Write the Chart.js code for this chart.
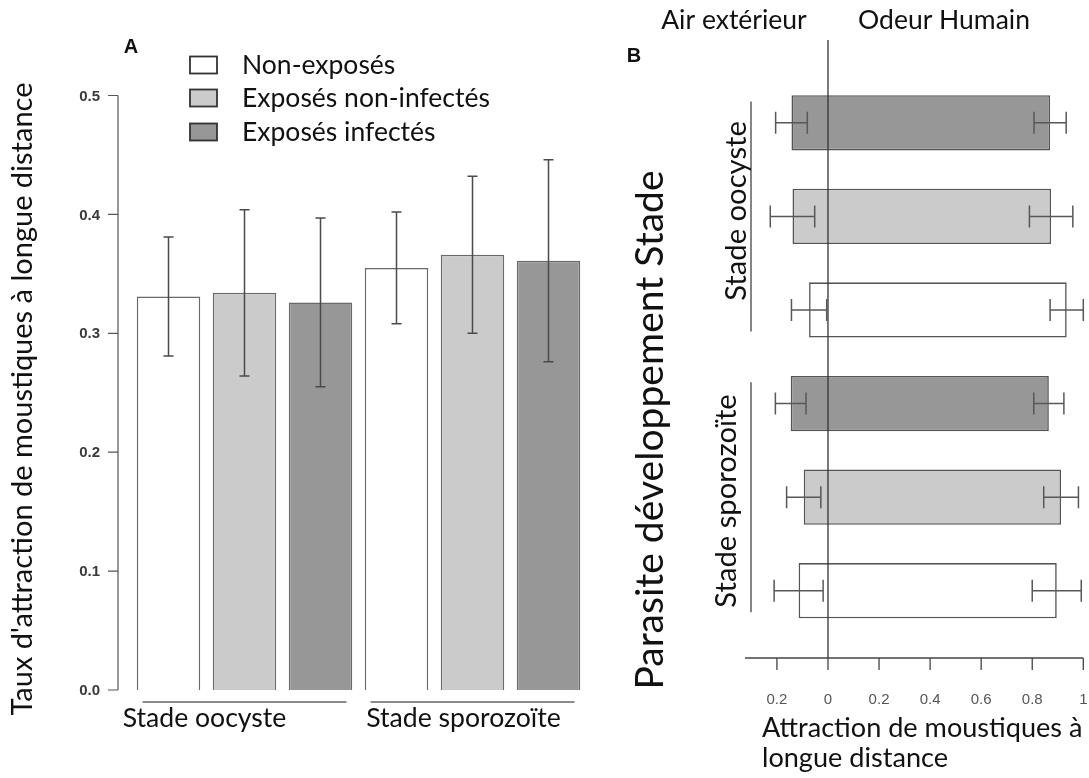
<!DOCTYPE html>
<html lang="fr">
<head>
<meta charset="UTF-8">
<title>Attraction des moustiques</title>
<script src="https://cdn.jsdelivr.net/npm/chart.js"></script>
<style>
    body { margin: 0; background: #fff; width: 1089px; height: 778px; overflow: hidden; position: relative; }
    #chartA { position: absolute; left: 0; top: 0; }
    #chartB { position: absolute; left: 600px; top: 0; }
</style>
</head>
<body>
<canvas id="chartA" width="600" height="778"></canvas>
<canvas id="chartB" width="489" height="778"></canvas>
<script>
// groups and series
const groups = ['Stade oocyste', 'Stade sporozoïte'];
const seriesNames = ['Non-exposés', 'Exposés non-infectés', 'Exposés infectés'];
const seriesColors = ['#ffffff', '#cbcbcb', '#979797'];

// panel A : taux d'attraction (moyenne, erreur)
const tauxNonExp = [0.331, 0.355];
const tauxNonInf = [0.334, 0.366];
const tauxInf = [0.326, 0.361];
const errTauxNonExp = [0.050, 0.047];
const errTauxNonInf = [0.070, 0.066];
const errTauxInf = [0.071, 0.085];
const yTicksA = [0, 0.1, 0.2, 0.3, 0.4, 0.5];

// panel B : air exterieur (gauche) / odeur humaine (droite)
const airInf = [0.143, 0.146];
const odeurInf = [0.870, 0.865];
const errAirInf = [0.062, 0.060];
const errOdeurInf = [0.063, 0.059];
const airNonInf = [0.139, 0.095];
const odeurNonInf = [0.874, 0.913];
const errAirNonInf = [0.087, 0.067];
const errOdeurNonInf = [0.085, 0.068];
const airNonExp = [0.074, 0.115];
const odeurNonExp = [0.935, 0.896];
const errAirNonExp = [0.069, 0.096];
const errOdeurNonExp = [0.065, 0.096];
const xTicksB = [-0.2, 0, 0.2, 0.4, 0.6, 0.8, 1];

const SANS = '"Lato", "Open Sans", sans-serif';
const TICK = '"Liberation Sans", Arial, sans-serif';

// pick a font size so the text spans the wanted width
function fitFont(ctx, text, width, family, weight) {
    ctx.font = (weight || 'normal') + ' 100px ' + family;
    const size = 100 * width / ctx.measureText(text).width;
    return (weight || 'normal') + ' ' + size.toFixed(1) + 'px ' + family;
}

function vText(ctx, text, x, y, font) {
    ctx.save();
    ctx.translate(x, y);
    ctx.rotate(-Math.PI / 2);
    ctx.font = font;
    ctx.textAlign = 'center';
    ctx.textBaseline = 'middle';
    ctx.fillText(text, 0, 0);
    ctx.restore();
}

// ---------- panel A ----------
const errA = [errTauxNonExp, errTauxNonInf, errTauxInf];

const panelA = {
    id: 'panelA',
    afterDatasetsDraw(chart) {
        const ctx = chart.ctx, y = chart.scales.y;
        ctx.save();
        ctx.strokeStyle = '#4a4a4a';
        ctx.lineWidth = 1.5;
        chart.data.datasets.forEach((ds, d) => {
            chart.getDatasetMeta(d).data.forEach((bar, i) => {
                const v = ds.data[i], e = errA[d][i];
                const top = y.getPixelForValue(v + e), bot = y.getPixelForValue(v - e);
                ctx.beginPath();
                ctx.moveTo(bar.x, top); ctx.lineTo(bar.x, bot);
                ctx.moveTo(bar.x - 5, top); ctx.lineTo(bar.x + 5, top);
                ctx.moveTo(bar.x - 5, bot); ctx.lineTo(bar.x + 5, bot);
                ctx.stroke();
            });
        });
        ctx.restore();
    },
    afterDraw(chart) {
        const ctx = chart.ctx, y = chart.scales.y, x = chart.scales.x;
        ctx.save();
        // y axis, away from the bars
        const ax = 118;
        ctx.strokeStyle = '#555';
        ctx.lineWidth = 1.2;
        ctx.beginPath();
        ctx.moveTo(ax, y.getPixelForValue(yTicksA[0]));
        ctx.lineTo(ax, y.getPixelForValue(yTicksA[yTicksA.length - 1]));
        yTicksA.forEach(t => {
            ctx.moveTo(ax - 10, y.getPixelForValue(t));
            ctx.lineTo(ax, y.getPixelForValue(t));
        });
        ctx.stroke();
        ctx.fillStyle = '#3a3a3a';
        ctx.font = 'bold 15px ' + TICK;
        ctx.textAlign = 'right';
        ctx.textBaseline = 'middle';
        yTicksA.forEach(t => ctx.fillText(t.toFixed(1), 100, y.getPixelForValue(t) + 1));

        ctx.fillStyle = '#111';
        vText(ctx, "Taux d'attraction de moustiques à longue distance", 23, 399,
            fitFont(ctx, "Taux d'attraction de moustiques à longue distance", 634, SANS));

        ctx.font = 'bold 20px ' + TICK;
        ctx.textAlign = 'center';
        ctx.fillText('A', 131, 47);

        // group underlines and names
        const half = (x.getPixelForValue(1) - x.getPixelForValue(0)) / 2;
        const nameShift = [-40, -9];
        ctx.strokeStyle = '#666';
        ctx.lineWidth = 1.5;
        const gFont = fitFont(ctx, groups[0], 164, SANS);
        groups.forEach((g, i) => {
            const cx = x.getPixelForValue(i);
            ctx.beginPath();
            ctx.moveTo(cx - half + 12, 702);
            ctx.lineTo(cx + half - 12, 702);
            ctx.stroke();
            ctx.font = gFont;
            ctx.fillStyle = '#111';
            ctx.textAlign = 'center';
            ctx.textBaseline = 'middle';
            ctx.fillText(g, cx + nameShift[i], 718);
        });

        // legend
        const lFont = fitFont(ctx, seriesNames[1], 248, SANS);
        const rows = [65, 98, 132];
        seriesNames.forEach((s, i) => {
            ctx.fillStyle = seriesColors[i];
            ctx.fillRect(190, rows[i] - 8.5, 27, 17);
            ctx.strokeStyle = '#333';
            ctx.lineWidth = 1.8;
            ctx.strokeRect(190, rows[i] - 8.5, 27, 17);
            ctx.fillStyle = '#111';
            ctx.font = lFont;
            ctx.textAlign = 'left';
            ctx.textBaseline = 'middle';
            ctx.fillText(s, 242, rows[i]);
        });
        ctx.restore();
    }
};

new Chart(document.getElementById('chartA'), {
    type: 'bar',
    data: {
        labels: groups,
        datasets: [
            { label: seriesNames[0], data: tauxNonExp, backgroundColor: seriesColors[0] },
            { label: seriesNames[1], data: tauxNonInf, backgroundColor: seriesColors[1] },
            { label: seriesNames[2], data: tauxInf, backgroundColor: seriesColors[2] }
        ]
    },
    options: {
        responsive: false,
        animation: false,
        devicePixelRatio: 1,
        datasets: { bar: { categoryPercentage: 1, barPercentage: 0.835, borderColor: '#6a6a6a', borderWidth: 1.5 } },
        layout: { padding: { left: 130.5, right: 13.5, top: 95.5, bottom: 88 } },
        scales: {
            x: { display: false },
            y: { display: false, min: 0, max: 0.5 }
        },
        plugins: { legend: { display: false }, tooltip: { enabled: false } }
    },
    plugins: [panelA]
});

// ---------- panel B ----------
// top to bottom inside a group: infectés, non-infectés, non-exposés
const orderB = [2, 1, 0];
const airB = [airInf, airNonInf, airNonExp];
const odeurB = [odeurInf, odeurNonInf, odeurNonExp];
const errAirB = [errAirInf, errAirNonInf, errAirNonExp];
const errOdeurB = [errOdeurInf, errOdeurNonInf, errOdeurNonExp];

const panelB = {
    id: 'panelB',
    afterDatasetsDraw(chart) {
        const ctx = chart.ctx, x = chart.scales.x;
        ctx.save();
        // zero line over the bars
        ctx.strokeStyle = '#333';
        ctx.lineWidth = 1.3;
        ctx.beginPath();
        ctx.moveTo(x.getPixelForValue(0), 40);
        ctx.lineTo(x.getPixelForValue(0), 658);
        ctx.stroke();
        // error bars at both ends
        ctx.strokeStyle = '#585858';
        ctx.lineWidth = 1.5;
        chart.data.datasets.forEach((ds, d) => {
            chart.getDatasetMeta(d).data.forEach((bar, i) => {
                const ends = [[-airB[d][i], errAirB[d][i]], [odeurB[d][i], errOdeurB[d][i]]];
                ends.forEach(([v, e]) => {
                    const a = x.getPixelForValue(v - e), b = x.getPixelForValue(v + e);
                    ctx.beginPath();
                    ctx.moveTo(a, bar.y); ctx.lineTo(b, bar.y);
                    ctx.moveTo(a, bar.y - 11); ctx.lineTo(a, bar.y + 11);
                    ctx.moveTo(b, bar.y - 11); ctx.lineTo(b, bar.y + 11);
                    ctx.stroke();
                });
            });
        });
        ctx.restore();
    },
    afterDraw(chart) {
        const ctx = chart.ctx, x = chart.scales.x, y = chart.scales.y;
        ctx.save();
        // x axis below the plot
        const ay = 658;
        ctx.strokeStyle = '#444';
        ctx.lineWidth = 1.3;
        ctx.beginPath();
        ctx.moveTo(chart.chartArea.left, ay);
        ctx.lineTo(x.getPixelForValue(xTicksB[xTicksB.length - 1]), ay);
        xTicksB.forEach(t => {
            ctx.moveTo(x.getPixelForValue(t), ay);
            ctx.lineTo(x.getPixelForValue(t), ay + 12);
        });
        ctx.stroke();
        ctx.fillStyle = '#555';
        ctx.font = '15px ' + TICK;
        ctx.textAlign = 'center';
        ctx.textBaseline = 'middle';
        xTicksB.forEach(t => ctx.fillText(String(Math.abs(t)), x.getPixelForValue(t), 700));

        ctx.fillStyle = '#111';
        ctx.textAlign = 'left';
        ctx.font = fitFont(ctx, 'Attraction de moustiques à', 320, SANS);
        ctx.fillText('Attraction de moustiques à', 162, 728);
        ctx.fillText('longue distance', 162, 758);

        ctx.textAlign = 'center';
        ctx.font = fitFont(ctx, 'Odeur Humain', 172, SANS);
        ctx.fillText('Air extérieur', 134, 20);
        ctx.fillText('Odeur Humain', 344, 20);

        ctx.font = 'bold 20px ' + TICK;
        ctx.fillText('B', 34, 56);

        vText(ctx, 'Parasite développement Stade', 50, 430,
            fitFont(ctx, 'Parasite développement Stade', 520, SANS));

        // group brackets and names
        const gFont = fitFont(ctx, groups[0], 180, SANS);
        const nameX = [137, 127];
        const nameY = [211, 501];
        ctx.strokeStyle = '#444';
        ctx.lineWidth = 1.3;
        groups.forEach((g, i) => {
            const cy = y.getPixelForValue(i);
            ctx.beginPath();
            ctx.moveTo(151, cy - 115);
            ctx.lineTo(151, cy + 115);
            ctx.stroke();
            vText(ctx, g, nameX[i], nameY[i], gFont);
        });
        ctx.restore();
    }
};

new Chart(document.getElementById('chartB'), {
    type: 'bar',
    data: {
        labels: groups,
        datasets: orderB.map((s, d) => ({
            label: seriesNames[s],
            data: airB[d].map((a, i) => [-a, odeurB[d][i]]),
            backgroundColor: seriesColors[s]
        }))
    },
    options: {
        indexAxis: 'y',
        responsive: false,
        animation: false,
        devicePixelRatio: 1,
        datasets: { bar: { categoryPercentage: 1, barPercentage: 0.59, borderColor: '#555', borderWidth: 1.6, borderSkipped: false } },
        layout: { padding: { left: 145, right: 5.7, top: 76, bottom: 140.5 } },
        scales: {
            x: { display: false, min: -0.325, max: 1.0 },
            y: { display: false }
        },
        plugins: { legend: { display: false }, tooltip: { enabled: false } }
    },
    plugins: [panelB]
});
</script>
</body>
</html>
